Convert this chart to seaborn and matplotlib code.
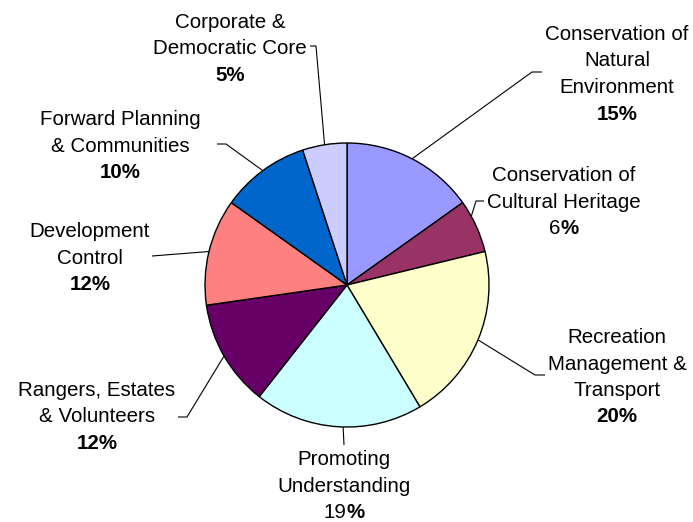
import numpy as np
import matplotlib
matplotlib.use("Agg")
import matplotlib.pyplot as plt
import seaborn as sns

# ---- data ----
categories = ["Conservation of Natural Environment",
              "Conservation of Cultural Heritage",
              "Recreation Management & Transport",
              "Promoting Understanding",
              "Rangers, Estates & Volunteers",
              "Development Control",
              "Forward Planning & Communities",
              "Corporate & Democratic Core"]
values = [15, 6, 20, 19, 12, 12, 10, 5]
label_lines = [["Conservation of", "Natural", "Environment"],
               ["Conservation of", "Cultural Heritage"],
               ["Recreation", "Management &", "Transport"],
               ["Promoting", "Understanding"],
               ["Rangers, Estates", "& Volunteers"],
               ["Development", "Control"],
               ["Forward Planning", "& Communities"],
               ["Corporate &", "Democratic Core"]]
pct_labels = ["15%", "6%", "20%", "19%", "12%", "12%", "10%", "5%"]
pct_number_bold = [True, False, True, False, True, True, True, True]
colors = ["#9999FF", "#993366", "#FFFFCC", "#CCFFFF",
          "#660066", "#FF8080", "#0066CC", "#CCCCFF"]

# ---- layout (pixel coordinates, y from top) ----
W, H = 693, 522
CX, CY, R = 347, 285, 142
label_cx = [617, 564, 617, 344, 97, 90, 120, 230]
label_y0 = [34.5, 175.5, 337.5, 459.5, 390.5, 231.5, 119.5, 22.5]
LINE = 26.5
# where along each wedge (0 = start, 1 = end, clockwise) the leader attaches
attach_frac = [0.5, 0.3, 0.5, 0.47, 0.5, 0.5, 0.5, 0.5]
leader_pts = [[(532, 72), (542, 72)],
              [(476, 201), (484, 201)],
              [(535, 375), (545, 375)],
              [(344, 445)],
              [(187, 417), (178, 417)],
              [(152, 256)],
              [(226, 144), (217, 144)],
              [(316, 46), (310, 46)]]

sns.set_theme(style="white")
plt.rcParams['font.family'] = ['Liberation Sans', 'DejaVu Sans']
FS = 14.8

fig = plt.figure(figsize=(W / 100, H / 100), dpi=100)
ax = fig.add_axes([0, 0, 1, 1])
wedges, _ = ax.pie(values, colors=colors, startangle=90, counterclock=False,
                   center=(CX, H - CY), radius=R,
                   wedgeprops=dict(edgecolor="black", linewidth=1.0))
ax.set_xlim(0, W)
ax.set_ylim(0, H)
ax.set_aspect("equal")
ax.axis("off")

def py(y):
    return H - y

fig.canvas.draw()
renderer = fig.canvas.get_renderer()

for i, w in enumerate(wedges):
    # clockwise wedges: theta2 is the start, theta1 the end
    ang = np.deg2rad(w.theta2 + (w.theta1 - w.theta2) * attach_frac[i])
    px, pyy = CX + R * np.cos(ang), H - CY + R * np.sin(ang)
    xs = [px] + [p[0] for p in leader_pts[i]]
    ys = [pyy] + [py(p[1]) for p in leader_pts[i]]
    ax.plot(xs, ys, color="black", linewidth=0.8, solid_capstyle="butt")

    lines = label_lines[i]
    for j, ln in enumerate(lines):
        ax.text(label_cx[i], py(label_y0[i] + j * LINE), ln, ha="center",
                va="center", fontsize=FS, color="black")
    yp = py(label_y0[i] + len(lines) * LINE)
    pct = pct_labels[i]
    if pct_number_bold[i]:
        ax.text(label_cx[i], yp, pct, ha="center", va="center",
                fontsize=FS, fontweight="bold", color="black")
    else:
        num, sign = pct[:-1], pct[-1]
        t1 = ax.text(0, yp, num, ha="left", va="center", fontsize=FS, color="black")
        t2 = ax.text(0, yp, sign, ha="left", va="center", fontsize=FS,
                     fontweight="bold", color="black")
        w1 = t1.get_window_extent(renderer).width
        w2 = t2.get_window_extent(renderer).width
        x0 = label_cx[i] - (w1 + w2) / 2
        t1.set_x(x0)
        t2.set_x(x0 + w1)

fig.savefig("out.png", dpi=100, facecolor="white")
